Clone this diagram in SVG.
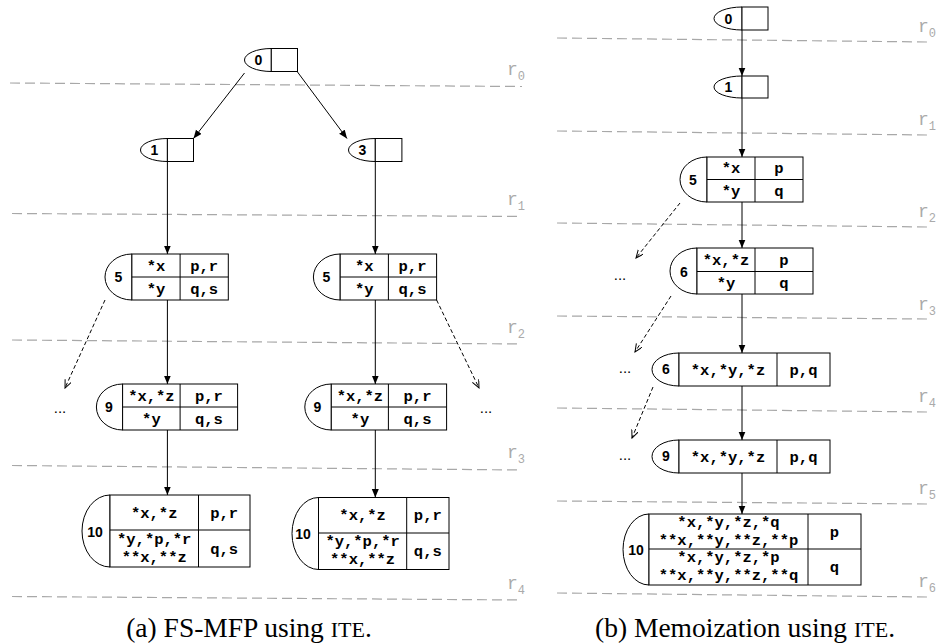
<svg xmlns="http://www.w3.org/2000/svg" width="938" height="643" viewBox="0 0 938 643">
<style>
.bx{fill:#fff;stroke:#000;stroke-width:1}
.hf{fill:#fff;stroke:#000;stroke-width:1}
.t{font-family:"Liberation Mono",monospace;font-weight:bold;font-size:15.5px;text-anchor:middle;fill:#000}
.n{font-family:"Liberation Sans",Arial,sans-serif;font-weight:bold;font-size:14px;text-anchor:middle;fill:#000}
.lv{stroke:#a8a8a8;stroke-width:1.2;stroke-dasharray:10 5;fill:none}
.rl{font-family:"Liberation Mono",monospace;font-size:18px;fill:#aaa}
.e{stroke:#000;stroke-width:1;fill:none;marker-end:url(#ah)}
.d{stroke:#000;stroke-width:1;fill:none;stroke-dasharray:4 2.5;marker-end:url(#oh)}
.dots{font-family:"Liberation Sans",Arial,sans-serif;font-size:15px;text-anchor:middle;fill:#000}
.cap{font-family:"Liberation Serif","Times New Roman",serif;font-size:27.5px;text-anchor:middle;fill:#000}
</style>
<defs>
<marker id="ah" markerUnits="userSpaceOnUse" markerWidth="9" markerHeight="8" refX="8.5" refY="3.5" orient="auto"><path d="M0,0 L8.5,3.5 L0,7 z" fill="#000"/></marker>
<marker id="oh" markerUnits="userSpaceOnUse" markerWidth="9" markerHeight="8" refX="8" refY="3.5" orient="auto"><path d="M0,0 L8,3.5 L0,7" fill="none" stroke="#000" stroke-width="1"/></marker>
</defs>

<g id="levels">
<line class="lv" x1="10" y1="83" x2="522" y2="86.5"/>
<line class="lv" x1="12" y1="213.5" x2="522" y2="216.5"/>
<line class="lv" x1="12" y1="340" x2="522" y2="344"/>
<line class="lv" x1="12" y1="465.5" x2="522" y2="470"/>
<line class="lv" x1="12" y1="596.5" x2="522" y2="600"/>
<text class="rl" x="507" y="75">r<tspan font-size="12" dy="5">0</tspan></text>
<text class="rl" x="507" y="205">r<tspan font-size="12" dy="5">1</tspan></text>
<text class="rl" x="507" y="333">r<tspan font-size="12" dy="5">2</tspan></text>
<text class="rl" x="507" y="458">r<tspan font-size="12" dy="5">3</tspan></text>
<text class="rl" x="507" y="589">r<tspan font-size="12" dy="5">4</tspan></text>
<line class="lv" x1="557" y1="38" x2="928" y2="42"/>
<line class="lv" x1="557" y1="131" x2="928" y2="135"/>
<line class="lv" x1="557" y1="223" x2="928" y2="227"/>
<line class="lv" x1="557" y1="316" x2="928" y2="319"/>
<line class="lv" x1="557" y1="408" x2="928" y2="412"/>
<line class="lv" x1="557" y1="501" x2="928" y2="504"/>
<line class="lv" x1="557" y1="593" x2="928" y2="597"/>
<text class="rl" x="918" y="32">r<tspan font-size="12" dy="5">0</tspan></text>
<text class="rl" x="918" y="125">r<tspan font-size="12" dy="5">1</tspan></text>
<text class="rl" x="918" y="217">r<tspan font-size="12" dy="5">2</tspan></text>
<text class="rl" x="918" y="310">r<tspan font-size="12" dy="5">3</tspan></text>
<text class="rl" x="918" y="402">r<tspan font-size="12" dy="5">4</tspan></text>
<text class="rl" x="918" y="494">r<tspan font-size="12" dy="5">5</tspan></text>
<text class="rl" x="918" y="587">r<tspan font-size="12" dy="5">6</tspan></text>
</g>

<g id="connectors">
<line class="e" x1="244.5" y1="73" x2="193.5" y2="138.5"/>
<line class="e" x1="297.5" y1="72" x2="347" y2="138.5"/>
<line class="e" x1="167.4" y1="161.5" x2="167.4" y2="254"/>
<line class="e" x1="167.4" y1="300" x2="167.4" y2="384"/>
<line class="e" x1="167.4" y1="430" x2="167.4" y2="495"/>
<line class="e" x1="375.3" y1="161.5" x2="375.3" y2="254"/>
<line class="e" x1="375.3" y1="300" x2="375.3" y2="384"/>
<line class="e" x1="375.3" y1="430" x2="375.3" y2="497.5"/>
<line class="d" x1="105" y1="300" x2="65" y2="388"/>
<line class="d" x1="436.6" y1="300" x2="479" y2="388"/>
<line class="e" x1="742" y1="30" x2="742" y2="76"/>
<line class="e" x1="742" y1="98" x2="742" y2="157"/>
<line class="e" x1="742" y1="202" x2="742" y2="248"/>
<line class="e" x1="742" y1="294" x2="742" y2="353"/>
<line class="e" x1="742" y1="386" x2="742" y2="440"/>
<line class="e" x1="742" y1="473" x2="742" y2="514"/>
<line class="d" x1="680" y1="203" x2="636" y2="258"/>
<line class="d" x1="671" y1="296" x2="635" y2="352"/>
<line class="d" x1="653" y1="387" x2="632" y2="438"/>
</g>

<!-- left panel -->
<g id="a0">
<path class="hf" d="M271.3,48.5 A26.8,11.5 0 0 0 271.3,71.5 Z"/>
<rect class="bx" x="271.3" y="48.5" width="26.2" height="23"/>
<text class="n" x="258.5" y="65">0</text>
</g>
<g id="a1">
<path class="hf" d="M167.4,138.5 A26.9,11.5 0 0 0 167.4,161.5 Z"/>
<rect class="bx" x="167.4" y="138.5" width="26.1" height="23"/>
<text class="n" x="154.5" y="155">1</text>
</g>
<g id="a3">
<path class="hf" d="M375.3,138.5 A26.8,11.5 0 0 0 375.3,161.5 Z"/>
<rect class="bx" x="375.3" y="138.5" width="26.6" height="23"/>
<text class="n" x="362.5" y="155">3</text>
</g>
<g id="a5L">
<path class="hf" d="M131.9,254 A26.9,23 0 0 0 131.9,300 Z"/>
<rect class="bx" x="131.9" y="254" width="96.4" height="46"/>
<line class="bx" x1="131.9" y1="277" x2="228.3" y2="277"/>
<line class="bx" x1="180.1" y1="254" x2="180.1" y2="300"/>
<text class="n" x="118.5" y="282">5</text>
<text class="t" x="156" y="270.5">*x</text><text class="t" x="204.2" y="270.5">p,r</text>
<text class="t" x="156" y="293.5">*y</text><text class="t" x="204.2" y="293.5">q,s</text>
</g>
<g id="a5R">
<path class="hf" d="M340.2,254 A26.8,23 0 0 0 340.2,300 Z"/>
<rect class="bx" x="340.2" y="254" width="96.4" height="46"/>
<line class="bx" x1="340.2" y1="277" x2="436.6" y2="277"/>
<line class="bx" x1="388.4" y1="254" x2="388.4" y2="300"/>
<text class="n" x="326.5" y="282">5</text>
<text class="t" x="364.3" y="270.5">*x</text><text class="t" x="412.5" y="270.5">p,r</text>
<text class="t" x="364.3" y="293.5">*y</text><text class="t" x="412.5" y="293.5">q,s</text>
</g>
<text class="dots" x="60" y="413">...</text>
<text class="dots" x="486" y="413">...</text>
<g id="a9L">
<path class="hf" d="M122.6,384 A26.2,23 0 0 0 122.6,430 Z"/>
<rect class="bx" x="122.6" y="384" width="115" height="46"/>
<line class="bx" x1="122.6" y1="407" x2="237.6" y2="407"/>
<line class="bx" x1="180.1" y1="384" x2="180.1" y2="430"/>
<text class="n" x="109" y="412">9</text>
<text class="t" x="151.4" y="400.5">*x,*z</text><text class="t" x="208.9" y="400.5">p,r</text>
<text class="t" x="151.4" y="423.5">*y</text><text class="t" x="208.9" y="423.5">q,s</text>
</g>
<g id="a9R">
<path class="hf" d="M331.3,384 A26.5,23 0 0 0 331.3,430 Z"/>
<rect class="bx" x="331.3" y="384" width="115.3" height="46"/>
<line class="bx" x1="331.3" y1="407" x2="446.6" y2="407"/>
<line class="bx" x1="388.4" y1="384" x2="388.4" y2="430"/>
<text class="n" x="317.5" y="412">9</text>
<text class="t" x="359.9" y="400.5">*x,*z</text><text class="t" x="417.5" y="400.5">p,r</text>
<text class="t" x="359.9" y="423.5">*y</text><text class="t" x="417.5" y="423.5">q,s</text>
</g>
<g id="a10L">
<path class="hf" d="M110,495 A28,36 0 0 0 110,567 Z"/>
<rect class="bx" x="110" y="495" width="140" height="72"/>
<line class="bx" x1="110" y1="530" x2="250" y2="530"/>
<line class="bx" x1="198.5" y1="495" x2="198.5" y2="567"/>
<text class="n" x="95" y="537">10</text>
<text class="t" x="154.2" y="517.5">*x,*z</text><text class="t" x="224.2" y="517.5">p,r</text>
<text class="t" x="154.2" y="543.5">*y,*p,*r</text>
<text class="t" x="154.2" y="561.5">**x,**z</text>
<text class="t" x="224.2" y="553.5">q,s</text>
</g>
<g id="a10R">
<path class="hf" d="M318.5,497.5 A26.5,36 0 0 0 318.5,569.5 Z"/>
<rect class="bx" x="318.5" y="497.5" width="130.5" height="72"/>
<line class="bx" x1="318.5" y1="533" x2="449" y2="533"/>
<line class="bx" x1="406.7" y1="497.5" x2="406.7" y2="569.5"/>
<text class="n" x="303" y="539">10</text>
<text class="t" x="362.6" y="520">*x,*z</text><text class="t" x="427.8" y="520">p,r</text>
<text class="t" x="362.6" y="546">*y,*p,*r</text>
<text class="t" x="362.6" y="564">**x,**z</text>
<text class="t" x="427.8" y="556">q,s</text>
</g>
<text class="cap" x="249" y="637">(a) FS-MFP using <tspan font-size="22">ITE</tspan>.</text>

<!-- right panel -->
<g id="b0">
<path class="hf" d="M742,7 A28,11.5 0 0 0 742,30 Z"/>
<rect class="bx" x="742" y="7" width="26" height="23"/>
<text class="n" x="728.5" y="23.5">0</text>
</g>
<g id="b1">
<path class="hf" d="M742,76 A28,11 0 0 0 742,98 Z"/>
<rect class="bx" x="742" y="76" width="26" height="22"/>
<text class="n" x="728.5" y="92">1</text>
</g>
<g id="b5">
<path class="hf" d="M707,157 A27,22.5 0 0 0 707,202 Z"/>
<rect class="bx" x="707" y="157" width="96" height="45"/>
<line class="bx" x1="707" y1="179.5" x2="803" y2="179.5"/>
<line class="bx" x1="755" y1="157" x2="755" y2="202"/>
<text class="n" x="693" y="184.5">5</text>
<text class="t" x="731" y="173">*x</text><text class="t" x="779" y="173">p</text>
<text class="t" x="731" y="195.5">*y</text><text class="t" x="779" y="195.5">q</text>
</g>
<text class="dots" x="620" y="280">...</text>
<g id="b6a">
<path class="hf" d="M697,248 A27,23 0 0 0 697,294 Z"/>
<rect class="bx" x="697" y="248" width="116" height="46"/>
<line class="bx" x1="697" y1="271.5" x2="813" y2="271.5"/>
<line class="bx" x1="755" y1="248" x2="755" y2="294"/>
<text class="n" x="684" y="276.5">6</text>
<text class="t" x="726" y="264.5">*x,*z</text><text class="t" x="784" y="264.5">p</text>
<text class="t" x="726" y="288">*y</text><text class="t" x="784" y="288">q</text>
</g>
<text class="dots" x="625" y="373">...</text>
<g id="b6b">
<path class="hf" d="M679,353 A27,16.5 0 0 0 679,386 Z"/>
<rect class="bx" x="679" y="353" width="151" height="33"/>
<line class="bx" x1="777" y1="353" x2="777" y2="386"/>
<text class="n" x="666" y="374">6</text>
<text class="t" x="728" y="374.5">*x,*y,*z</text><text class="t" x="803.5" y="374.5">p,q</text>
</g>
<text class="dots" x="625" y="460">...</text>
<g id="b9">
<path class="hf" d="M679,440 A27,16.5 0 0 0 679,473 Z"/>
<rect class="bx" x="679" y="440" width="151" height="33"/>
<line class="bx" x1="777" y1="440" x2="777" y2="473"/>
<text class="n" x="666" y="461">9</text>
<text class="t" x="728" y="461.5">*x,*y,*z</text><text class="t" x="803.5" y="461.5">p,q</text>
</g>
<g id="b10">
<path class="hf" d="M649,514 A26,35.5 0 0 0 649,585 Z"/>
<rect class="bx" x="649" y="514" width="212" height="71"/>
<line class="bx" x1="649" y1="549" x2="861" y2="549"/>
<line class="bx" x1="808" y1="514" x2="808" y2="585"/>
<text class="n" x="636" y="555">10</text>
<text class="t" x="728.5" y="527">*x,*y,*z,*q</text>
<text class="t" x="728.5" y="544.5">**x,**y,**z,**p</text>
<text class="t" x="834.5" y="537">p</text>
<text class="t" x="728.5" y="562">*x,*y,*z,*p</text>
<text class="t" x="728.5" y="580">**x,**y,**z,**q</text>
<text class="t" x="834.5" y="572">q</text>
</g>
<text class="cap" x="745" y="637">(b) Memoization using <tspan font-size="22">ITE</tspan>.</text>
</svg>
